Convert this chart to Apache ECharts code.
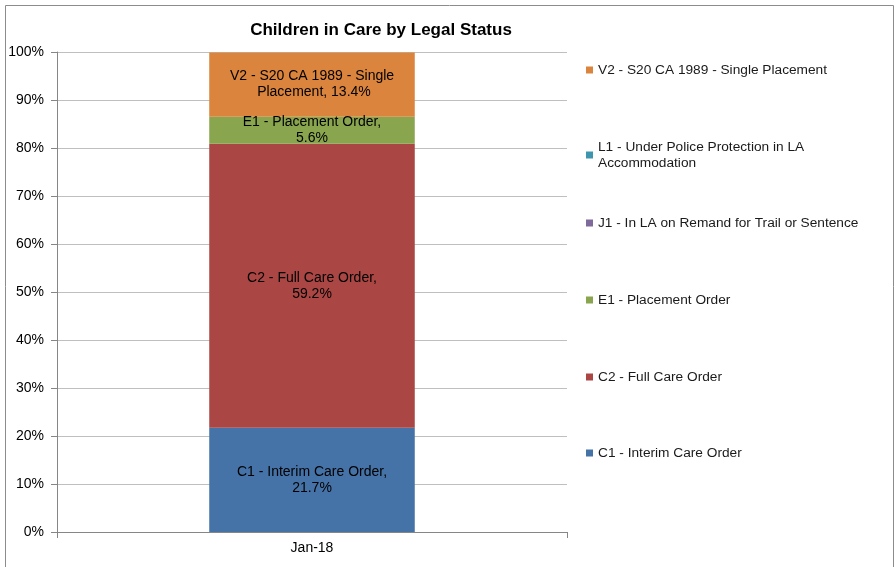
<!DOCTYPE html>
<html><head><meta charset="utf-8">
<script src="https://cdn.jsdelivr.net/npm/echarts@6/dist/echarts.min.js"></script>
<style>html,body{margin:0;padding:0;background:#fff}#c{width:896px;height:567px}</style>
</head><body><div id="c"></div>
<script>
const categories = ['Jan-18'];
const seriesNames = ['C1 - Interim Care Order','C2 - Full Care Order','E1 - Placement Order','J1 - In LA on Remand for Trail or Sentence','L1 - Under Police Protection in LA Accommodation','V2 - S20 CA 1989 - Single Placement'];
const c1 = [21.7];
const c2 = [59.2];
const e1 = [5.6];
const j1 = [0];
const l1 = [0];
const v2 = [13.4];
const yTicks = [0,10,20,30,40,50,60,70,80,90,100];
const colors = ['#4572A7','#AA4643','#89A54E','#80699B','#3D96AE','#DB843D'];
const values = [c1,c2,e1,j1,l1,v2];
const FONT = '"Liberation Sans", Arial, sans-serif';

const series = seriesNames.map((n,i)=>({
  name:n, type:'bar', stack:'s', data:values[i], barWidth:'40.3%',
  itemStyle:{color:colors[i]},
  label:{show:true, position:'inside', color:'#000', fontFamily:FONT, fontSize:14, lineHeight:16,
    width: i===5 ? 200 : undefined, overflow: i===5 ? 'break' : 'none',
    formatter:p=> p.value===0 ? '' : (i===5 ? p.seriesName + ', ' + p.value.toFixed(1)+'%' : p.seriesName + ',\n' + p.value.toFixed(1)+'%')}
}));

const legendTops = {5:62, 4:139, 3:215, 2:292, 1:369, 0:445};
const legends = seriesNames.map((n,i)=>({
  data:[n], left:586, top:legendTops[i], padding:0, icon:'rect', itemWidth:7, itemHeight:7, itemGap:5,
  selectedMode:false,
  textStyle:{fontFamily:FONT, fontSize:13.7, color:'#1a1a1a', lineHeight:16, width: i===4 ? 215 : undefined, overflow: i===4 ? 'break':'none'}
}));

const chart = echarts.init(document.getElementById('c'));
chart.setOption({
  animation:false,
  title:{text:'Children in Care by Legal Status', left:376, textAlign:'center', top:17,
    textStyle:{fontFamily:FONT, fontSize:17, fontWeight:'bold', color:'#000'}},
  graphic:[{type:'rect', shape:{x:5.5,y:5.5,width:888,height:620}, style:{fill:null, stroke:'#8c8c8c', lineWidth:1}, silent:true}],
  legend:legends,
  grid:{left:57, right:329, top:52, bottom:35},
  xAxis:{type:'category', data:categories,
    axisLine:{lineStyle:{color:'#868686'}}, axisTick:{show:true, length:6, lineStyle:{color:'#868686'}},
    axisLabel:{fontFamily:FONT, fontSize:14, color:'#000', margin:9}},
  yAxis:{type:'value', min:0, max:100, interval:10,
    axisLine:{show:true, lineStyle:{color:'#868686'}}, axisTick:{show:true, length:6, lineStyle:{color:'#868686'}},
    splitLine:{lineStyle:{color:'#bfbfbf'}},
    axisLabel:{fontFamily:FONT, fontSize:14, color:'#000', margin:13, formatter:v=> yTicks.includes(v)? v+'%' : ''}},
  series
});
</script></body></html>
